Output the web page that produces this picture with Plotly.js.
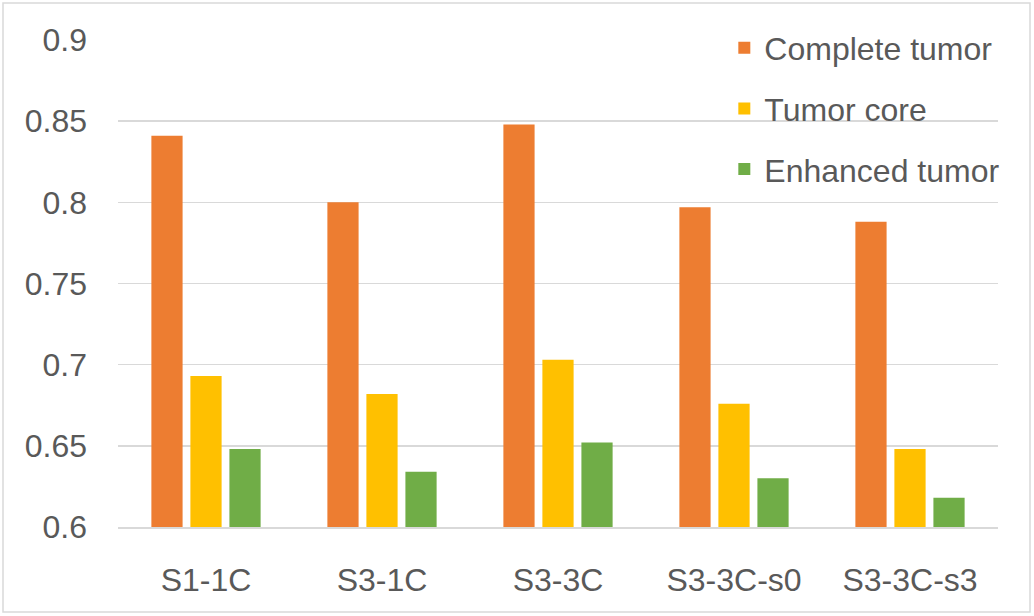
<!DOCTYPE html>
<html>
<head>
<meta charset="utf-8">
<script src="https://cdn.plot.ly/plotly-3.0.1.min.js"></script>
<style>html,body{margin:0;padding:0;background:#fff;}#chart{width:1034px;height:616px;}</style>
</head>
<body>
<div id="chart"></div>
<script>
const categories = ["S1-1C", "S3-1C", "S3-3C", "S3-3C-s0", "S3-3C-s3"];
const completeTumor = [0.841, 0.800, 0.848, 0.797, 0.788];
const tumorCore = [0.693, 0.682, 0.703, 0.676, 0.648];
const enhancedTumor = [0.648, 0.634, 0.652, 0.630, 0.618];
const seriesNames = ["Complete tumor", "Tumor core", "Enhanced tumor"];
const yTicks = [0.6, 0.65, 0.7, 0.75, 0.8, 0.85, 0.9];
const yTickLabels = ["0.6", "0.65", "0.7", "0.75", "0.8", "0.85", "0.9"];

const colors = ["#ED7D31", "#FFC000", "#70AD47"];
const seriesValues = [completeTumor, tumorCore, enhancedTumor];

const traces = seriesValues.map((vals, i) => ({
  type: "bar",
  name: seriesNames[i],
  x: categories,
  y: vals,
  legendgroup: "g" + i,
  marker: {color: colors[i], line: {width: 0}},
  hoverinfo: "x+y+name"
}));

const font = {family: "Liberation Sans, Arial, sans-serif", size: 32, color: "#595959"};

const layout = {
  width: 1034,
  height: 616,
  margin: {l: 118, r: 36, t: 40, b: 89, pad: 0},
  paper_bgcolor: "#ffffff",
  plot_bgcolor: "#ffffff",
  font: font,
  barmode: "group",
  bargap: 0.335,
  bargroupgap: 0.2,
  showlegend: true,
  legend: {
    x: 0.689, xanchor: "left",
    y: 1.04, yanchor: "top",
    bgcolor: "rgba(0,0,0,0)",
    font: font,
    traceorder: "grouped",
    tracegroupgap: 16
  },
  xaxis: {
    type: "category",
    showgrid: false,
    showline: true,
    linecolor: "#D9D9D9",
    linewidth: 1.5,
    ticks: "",
    tickfont: font,
    ticklabelstandoff: 24,
    zeroline: false,
    fixedrange: true
  },
  yaxis: {
    range: [0.6, 0.9],
    tickmode: "array",
    tickvals: yTicks,
    ticktext: yTickLabels,
    showgrid: true,
    gridcolor: "#D9D9D9",
    gridwidth: 1.5,
    zeroline: false,
    showline: false,
    ticks: "",
    tickfont: font,
    ticklabelstandoff: 30,
    fixedrange: true
  },
  shapes: [{
    type: "rect", xref: "paper", yref: "paper",
    x0: (3 - 118) / 880, x1: (1030 - 118) / 880,
    y0: (527 - 612) / 487, y1: (527 - 3) / 487,
    line: {color: "#D9D9D9", width: 1.5},
    fillcolor: "rgba(0,0,0,0)",
    layer: "below"
  }]
};

Plotly.newPlot("chart", traces, layout, {displayModeBar: false, staticPlot: true});
</script>
</body>
</html>
